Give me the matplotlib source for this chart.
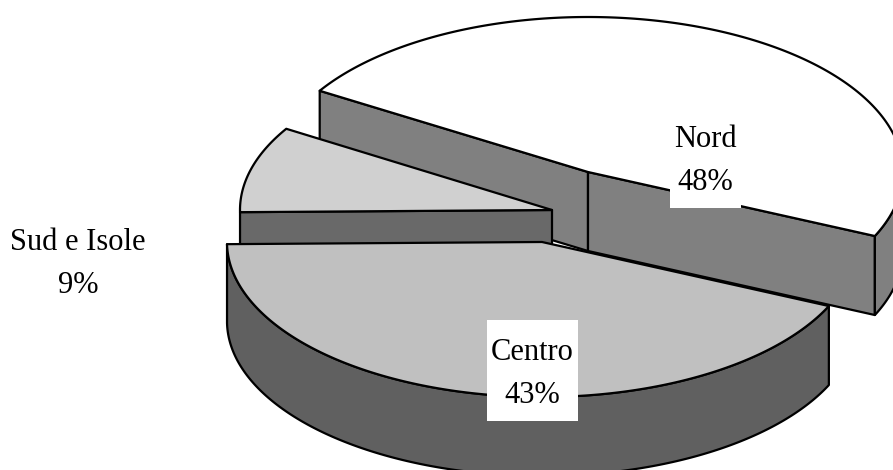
import numpy as np
from matplotlib import pyplot as plt
from matplotlib.patches import Polygon, Rectangle

categories = ['Nord', 'Centro', 'Sud e Isole']
shares = [48, 43, 9]

# exploded centre of each slice and its ellipse radii, in pixels
centers = [(588, 172), (542, 242), (552, 210)]
radii_x = [315, 315, 312]
radii_y = [155, 155, 155]
depth = 79
start_angle = 148.4

top_colors = ['#ffffff', '#c0c0c0', '#d0d0d0']
side_colors = ['#808080', '#606060', '#696969']

label_pos = [(705, 161), (532, 374), (78, 264)]
# white patches behind the labels that overlap the pie: x0, y0, x1, y1
label_boxes = [(670, 118, 741, 208), (487, 320, 578, 421)]

LW = 1.6


def rim(i, a0, a1, n=200):
    # points on the rim of slice i between two angles in degrees
    t = np.radians(np.linspace(a0, a1, n))
    cx, cy = centers[i]
    return np.column_stack([cx + radii_x[i] * np.cos(t), cy - radii_y[i] * np.sin(t)])


def face(ax, pts, color, z):
    ax.add_patch(Polygon(pts, closed=True, facecolor=color, edgecolor='black',
                         linewidth=LW, joinstyle='round', zorder=z))


def down(pts):
    return pts + np.array([0, depth])


fig = plt.figure(figsize=(8.93, 4.7), dpi=100)
ax = fig.add_axes([0, 0, 1, 1])
ax.set_xlim(0, 893)
ax.set_ylim(470, 0)
ax.axis('off')

# slice boundaries run clockwise from the start angle
edges = start_angle - np.cumsum([0] + shares) * 3.6
apex = [np.array(c, dtype=float) for c in centers]

# Nord: two cut faces, outer wall, then the top
a0, a1 = edges[0], edges[1]
for a in (a0, a1):
    end = rim(0, a, a, 1)[0]
    face(ax, [apex[0], end, end + [0, depth], apex[0] + [0, depth]], side_colors[0], 1)
wall = rim(0, a1, 0)
face(ax, np.vstack([wall, down(wall)[::-1]]), side_colors[0], 1)
face(ax, np.vstack([apex[0], rim(0, a0, a1)]), top_colors[0], 2)

# Sud e Isole: front cut face, then the top
a0, a1 = edges[2], edges[3]
end = rim(2, a0, a0, 1)[0]
face(ax, [apex[2], end, end + [0, depth], apex[2] + [0, depth]], side_colors[2], 3)
face(ax, np.vstack([apex[2], rim(2, a0, a1)]), top_colors[2], 4)

# Centro sits in front of the others
a0, a1 = edges[1], edges[2]
wall = rim(1, a0, a1)
face(ax, np.vstack([wall, down(wall)[::-1]]), side_colors[1], 5)
face(ax, np.vstack([apex[1], wall]), top_colors[1], 6)

for x0, y0, x1, y1 in label_boxes:
    ax.add_patch(Rectangle((x0, y0), x1 - x0, y1 - y0, facecolor='white', edgecolor='none', zorder=9))

for i, cat in enumerate(categories):
    ax.text(label_pos[i][0], label_pos[i][1], f'{cat}\n{shares[i]}%', ha='center', va='center',
            family='Liberation Serif', fontsize=22, linespacing=1.66, color='black', zorder=10)

fig.savefig('out.png', dpi=100)
